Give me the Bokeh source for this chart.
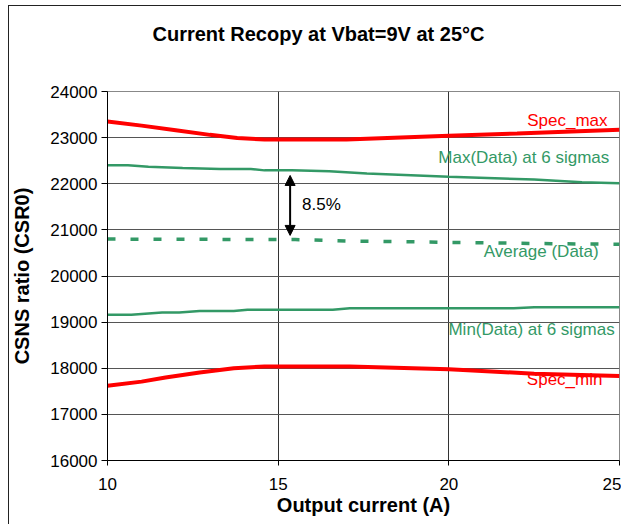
from bokeh.plotting import figure
from bokeh.models import Label, Arrow, NormalHead, FixedTicker, Range1d, Title
from bokeh.embed import file_html
from bokeh.resources import INLINE

# ---- data ----
spec_max_x = [10, 11, 12, 13, 13.8, 14.6, 17, 20, 22, 25]
spec_max_y = [23350, 23260, 23160, 23060, 22990, 22960, 22960, 23040, 23090, 23170]

max_x = [10, 10.6, 11.2, 12.2, 13.3, 14.2, 14.6, 15.4, 16.5, 17.6, 20, 22.5, 23.9, 25]
max_y = [22400, 22400, 22370, 22340, 22320, 22320, 22290, 22290, 22270, 22220, 22150, 22090, 22030, 22010]

avg_x = [10, 15.5, 17, 19, 21, 23, 25]
avg_y = [20800, 20790, 20760, 20740, 20720, 20700, 20690]

min_x = [10, 10.7, 11.6, 12.1, 12.7, 13.7, 14.1, 16.6, 17.1, 21.9, 22.5, 25]
min_y = [19160, 19160, 19210, 19210, 19240, 19240, 19270, 19270, 19300, 19300, 19320, 19320]

spec_min_x = [10, 11, 11.7, 12.7, 13.7, 14.6, 17.1, 20, 22.5, 25]
spec_min_y = [17620, 17710, 17800, 17910, 18000, 18040, 18040, 17980, 17880, 17830]

x_ticks = [10, 15, 20, 25]
y_ticks = [16000, 17000, 18000, 19000, 20000, 21000, 22000, 23000, 24000]

title_text = "Current Recopy at Vbat=9V at 25°C"
x_label = "Output current (A)"
y_label = "CSNS ratio (CSR0)"
series_labels = ["Spec_max", "Max(Data) at 6 sigmas", "Average (Data)", "Min(Data) at 6 sigmas", "Spec_min"]
label_x = [24.65, 24.7, 24.39, 24.86, 24.5]
label_y = [23380, 22575, 20540, 18835, 17755]
arrow_x = 15.35
arrow_y = [20880, 22180]
pct_text = "8.5%"
pct_pos = (15.7, 21550)

RED = "#FF0000"
GREEN = "#339966"
FONT = "Liberation Sans"

p = figure(width=621, height=524, output_backend="svg", toolbar_location=None,
           x_range=Range1d(10, 25), y_range=Range1d(16000, 24000),
           min_border_left=107, min_border_right=2, min_border_top=91, min_border_bottom=64)
p.background_fill_color = "white"
p.border_fill_color = None
p.outline_line_color = "#888888"
p.outline_line_width = 1
# outer chart-area border (left and top edges), drawn behind the transparent canvas border
p.styles = {
    "background-color": "white",
    "background-image": "linear-gradient(#222, #222), linear-gradient(#222, #222)",
    "background-size": "1px 519px, 613px 1px",
    "background-position": "8px 5px, 8px 5px",
    "background-repeat": "no-repeat",
}

p.title.text = ""
# spacer panel between plot frame and title
p.add_layout(Title(text=" ", text_font_size="10px", standoff=32), "above")
p.add_layout(Title(text=title_text, align="left", offset=45, standoff=4,
                   text_font=FONT, text_font_size="20px", text_font_style="bold",
                   text_color="black"), "above")

for ax in (p.xaxis[0], p.yaxis[0]):
    ax.axis_line_color = "black"
    ax.major_tick_line_color = "black"
    ax.minor_tick_line_color = None
    ax.major_tick_in = 0
    ax.major_label_text_font = FONT
    ax.major_label_text_font_size = "17px"
    ax.major_label_text_color = "black"
    ax.axis_label_text_font = FONT
    ax.axis_label_text_font_size = "20px"
    ax.axis_label_text_font_style = "bold"
    ax.axis_label_text_color = "black"

p.xaxis.ticker = FixedTicker(ticks=x_ticks)
p.yaxis.ticker = FixedTicker(ticks=y_ticks)
p.xaxis.major_tick_out = 5
p.yaxis.major_tick_out = 6
p.xaxis.major_label_standoff = 12
p.yaxis.major_label_standoff = 4
p.xaxis.axis_label = x_label
p.yaxis.axis_label = y_label
p.xaxis.axis_label_standoff = 1
p.yaxis.axis_label_standoff = 14

p.xgrid.ticker = FixedTicker(ticks=x_ticks)
p.ygrid.ticker = FixedTicker(ticks=y_ticks)
p.xgrid.grid_line_color = "#333333"
p.ygrid.grid_line_color = "#555555"

p.line(spec_max_x, spec_max_y, line_color=RED, line_width=4)
p.line(max_x, max_y, line_color=GREEN, line_width=2.5)
p.line(avg_x, avg_y, line_color=GREEN, line_width=3.5, line_dash="8 15")
p.line(min_x, min_y, line_color=GREEN, line_width=2.5)
p.line(spec_min_x, spec_min_y, line_color=RED, line_width=4)

colors = [RED, GREEN, GREEN, GREEN, RED]
for t, lx, ly, c in zip(series_labels, label_x, label_y, colors):
    p.add_layout(Label(x=lx, y=ly, text=t, text_align="right", text_baseline="middle",
                       text_color=c, text_font=FONT, text_font_size="17px"))

p.add_layout(Arrow(x_start=arrow_x, y_start=arrow_y[0], x_end=arrow_x, y_end=arrow_y[1],
                   line_color="black", line_width=2,
                   start=NormalHead(size=10, fill_color="black", line_color="black"),
                   end=NormalHead(size=10, fill_color="black", line_color="black")))
p.add_layout(Label(x=pct_pos[0], y=pct_pos[1], text=pct_text, text_align="left",
                   text_baseline="middle", text_color="black", text_font=FONT,
                   text_font_size="17px"))

open("out.html", "w").write(file_html(p, INLINE))
